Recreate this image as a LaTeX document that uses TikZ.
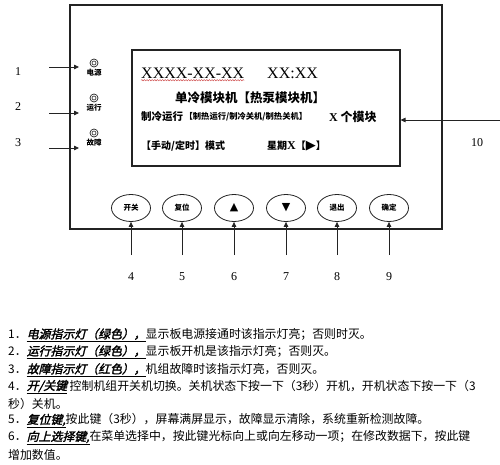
\documentclass[tikz,border=0pt]{standalone}
\usepackage{fontspec}
\setmainfont{Liberation Serif}
\newfontfamily\cjk{Noto Sans CJK SC}
\newfontfamily\cjkkey[FakeSlant=0.25, FakeBold=2]{Noto Sans CJK SC}
\newfontfamily\symfont{DejaVu Sans}
\usetikzlibrary{shapes.geometric, arrows.meta, positioning, calc, decorations.pathmorphing}
\definecolor{panelline}{RGB}{35,35,35}
\definecolor{spellred}{RGB}{205,70,70}
\newcommand{\fsz}[1]{\fontsize{#1}{#1}\selectfont}
\newcommand{\keyword}[1]{\underline{\cjkkey #1}}

\begin{document}
\begin{tikzpicture}[x=1pt, y=-1pt,
  frame/.style={draw=panelline, line width=1.3pt, inner sep=0pt},
  arrow/.style={-{Triangle[length=5pt,width=4.5pt]}, line width=0.8pt, panelline},
  led/.style={circle, draw=panelline, line width=0.7pt, minimum size=8pt, inner sep=0pt},
  ledtext/.style={font=\cjk\bfseries\fsz{7.5}, inner sep=0pt},
  btn/.style={ellipse, draw=panelline, line width=0.8pt, minimum width=39pt,
              minimum height=27pt, inner sep=0pt},
  num/.style={font=\fsz{12}, inner sep=0pt},
  scr/.style={anchor=west, inner sep=0pt},
  desc/.style={anchor=west, inner sep=0pt, font=\cjk\fsz{11.9}},
  squiggle/.style={spellred, line width=0.4pt, decorate,
                   decoration={snake, amplitude=0.7pt, segment length=2.6pt}},
]
\useasboundingbox (0,0) rectangle (500,465);

%% housing and display window
\node[frame, minimum width=372pt, minimum height=224pt] (panel) at (256,117) {};
\node[frame, line width=1.1pt, minimum width=268pt, minimum height=116pt] (screen) at (266,108) {};

%% display contents
\node[scr, font=\fsz{16}] (date) at (141,73) {XXXX-XX-XX};
\draw[squiggle] ([yshift=-2pt]date.base west) -- ([yshift=-2pt]date.base east);
\node[scr, font=\fsz{16}] (clock) at (267,73) {XX:XX};
\node[inner sep=0pt, font=\cjk\bfseries\fsz{12.5}] (unit) at (250,98) {单冷模块机【热泵模块机】};
\node[scr, font=\cjk\bfseries\fsz{10.5}] (run) at (141,117) {制冷运行};
\node[scr, font=\cjk\bfseries\fsz{8.3}, right=1pt of run] (runalt) {【制热运行/制冷关机/制热关机】};
\node[scr, font=\cjk\bfseries\fsz{12}] (count) at (329,117) {{\rmfamily\bfseries X} 个模块};
\node[scr, font=\cjk\bfseries\fsz{10}] (ctrl) at (141,146) {【手动/定时】模式};
\node[scr, font=\cjk\bfseries\fsz{10}] (week) at (267,146) {星期{\fsz{12}\bfseries\rmfamily X}【{\symfont\fsz{13}▶}】};

%% indicator lamps
\foreach \i/\y/\t in {1/63/电源, 2/98/运行, 3/133/故障} {
  \node[led] (l\i) at (94,\y) {};
  \draw[panelline, line width=0.6pt] (l\i.center) circle (2pt);
  \node[ledtext, below=1.5pt of l\i] (lt\i) {\t};
}

%% lamp callouts
\foreach \i/\y/\ny in {1/67/72, 2/113/107, 3/148/143} {
  \node[num] (n\i) at (18,\ny) {\i};
  \coordinate (s\i) at (49,\y);
  \coordinate (e\i) at (79,\y);
  \draw[arrow] (s\i) -- (e\i);
}

%% display callout
\node[num] (n10) at (477,143) {10};
\coordinate (s10) at (500,120);
\draw[arrow] (s10) -- (s10 -| screen.east);

%% keys and their callouts
\foreach \i/\x/\t in {4/131/{\cjk\bfseries\fsz{7.5}开关}, 5/182/{\cjk\bfseries\fsz{7.5}复位},
                      6/234/{\symfont\fsz{11}▲}, 7/286/{\symfont\fsz{11}▼},
                      8/337/{\cjk\bfseries\fsz{7.5}退出}, 9/389/{\cjk\bfseries\fsz{7.5}确定}} {
  \node[btn] (b\i) at (\x,208) {\t};
  \coordinate (s\i) at (\x,255);
  \node[num] (n\i) at (\x,277) {\i};
  \draw[arrow] (s\i) -- (b\i.south);
}

%% legend
\node[desc] (d1) at (8,335) {1．\keyword{电源指示灯（绿色），}显示板电源接通时该指示灯亮；否则时灭。};
\node[desc] (d2) at (8,352) {2．\keyword{运行指示灯（绿色），}显示板开机是该指示灯亮；否则灭。};
\node[desc] (d3) at (8,370) {3．\keyword{故障指示灯（红色），}机组故障时该指示灯亮，否则灭。};
\node[desc] (d4) at (8,387) {4．\keyword{开/关键} 控制机组开关机切换。关机状态下按一下（3秒）开机，开机状态下按一下（3};
\node[desc] (d5) at (8,404) {秒）关机。};
\node[desc] (d6) at (8,421) {5．\keyword{复位键,}按此键（3秒），屏幕满屏显示，故障显示清除，系统重新检测故障。};
\node[desc] (d7) at (8,438) {6．\keyword{向上选择键,}在菜单选择中，按此键光标向上或向左移动一项；在修改数据下，按此键};
\node[desc] (d8) at (8,455) {增加数值。};

\end{tikzpicture}
\end{document}
